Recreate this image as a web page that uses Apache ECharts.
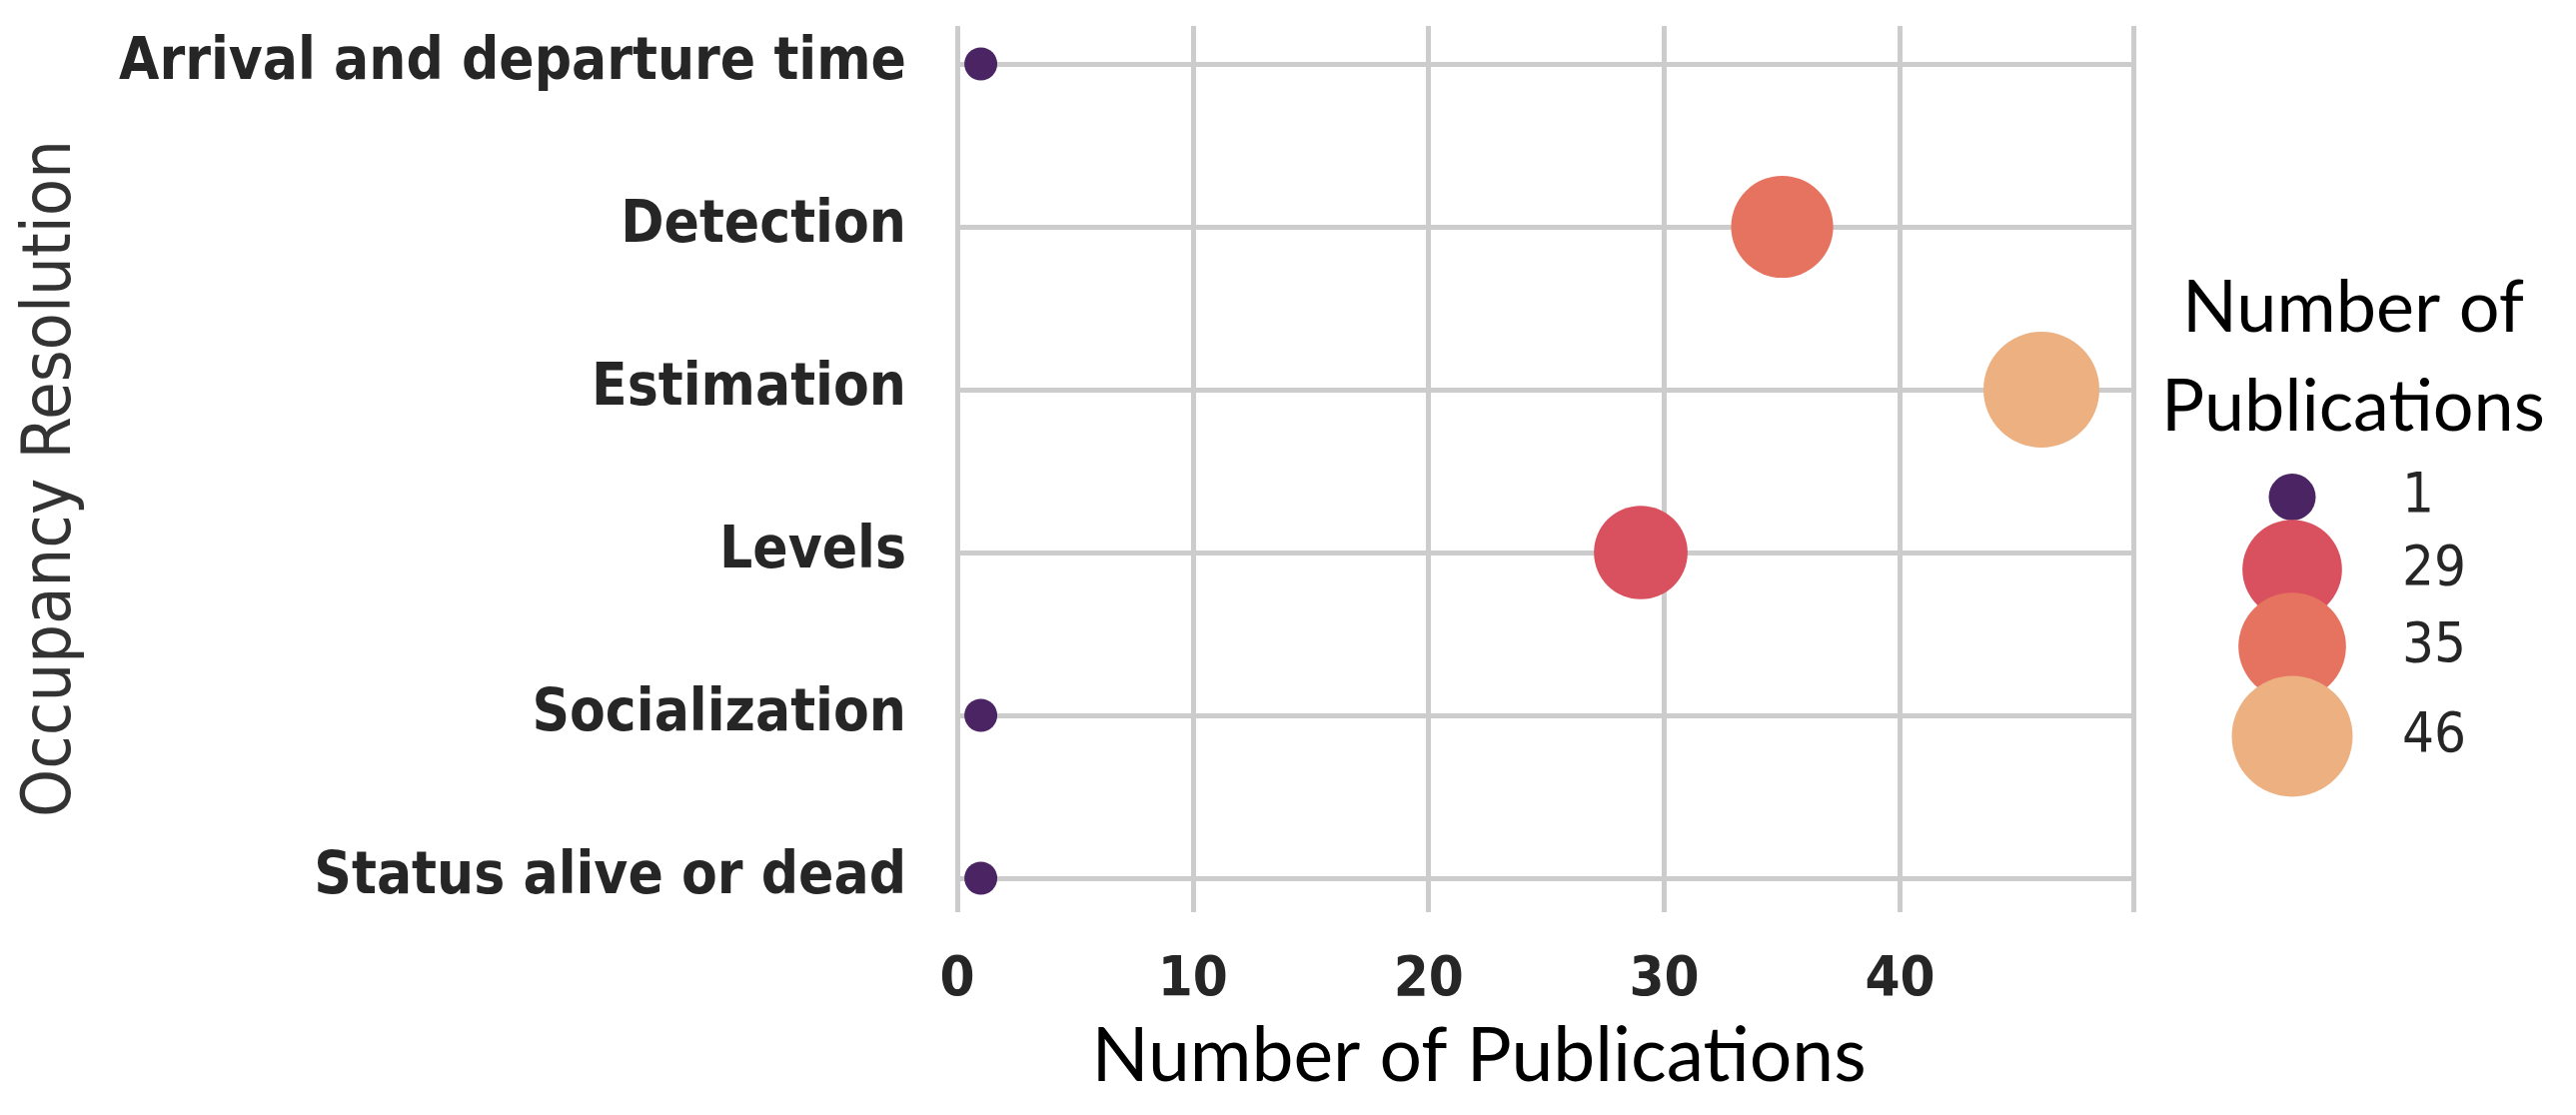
<!DOCTYPE html>
<html>
<head>
<meta charset="utf-8">
<script src="https://cdn.jsdelivr.net/npm/echarts@6/dist/echarts.min.js"></script>
<style>
  html, body { margin: 0; padding: 0; background: #fff; }
  #main { width: 2578px; height: 1116px; }
</style>
</head>
<body>
<div id="main"></div>
<script>
// values
const categories = [
  'Arrival and departure time',
  'Detection',
  'Estimation',
  'Levels',
  'Socialization',
  'Status alive or dead'
];
const publications = [1, 35, 46, 29, 1, 1];
const sizeLevels = [1, 29, 35, 46];
const levelColors = ['#4b2463', '#d9515e', '#e6735f', '#ecb081'];

const textColor = '#262626';
const gridColor = '#cccccc';
const condensed = '"DejaVu Sans Condensed", "DejaVu Sans", sans-serif';
const calibriLike = 'Lato, "Open Sans", sans-serif';

// marker area grows linearly with the count
const plotSize = v => Math.sqrt(1089 + (v - 1) * 275);
const legendSize = v => Math.sqrt(2209 + (v - 1) * 276);
const legendCenters = [493, 570, 647, 737];
const legendCenterX = 2294;
const legendTextX = 2404;

const plotLeft = 958;
const plotRight = 2578 - 2135;

const chart = echarts.init(document.getElementById('main'));

const series = sizeLevels.map((lv, i) => ({
  type: 'scatter',
  name: String(lv),
  xAxisIndex: 1,
  yAxisIndex: 1,
  data: categories
    .map((c, j) => (publications[j] === lv ? [publications[j], c] : null))
    .filter(Boolean),
  symbolSize: d => plotSize(d[0]),
  itemStyle: { color: levelColors[i], opacity: 1 },
  emphasis: { disabled: true },
  z: 3
}));

// one legend per size so every handle keeps its own diameter
const legends = sizeLevels.map((lv, i) => {
  const d = legendSize(lv);
  return {
    data: [{ name: String(lv), icon: 'circle' }],
    left: legendCenterX - d / 2,
    top: legendCenters[i] - d / 2,
    padding: 0,
    itemWidth: d,
    itemHeight: d,
    selectedMode: false,
    textStyle: {
      fontFamily: condensed,
      fontSize: 56,
      lineHeight: 40,
      color: textColor,
      padding: [0, 0, 0, legendTextX - (legendCenterX + d / 2 + 5)]
    }
  };
});

const option = {
  backgroundColor: '#fff',
  animation: false,
  grid: [
    // outer grid: vertical grid lines and x tick labels
    { left: plotLeft, right: plotRight, top: 26, bottom: 1116 - 913 },
    // inner grid: categories sit on its top and bottom edges
    { left: plotLeft, right: plotRight, top: 64, bottom: 1116 - 879 }
  ],
  xAxis: [
    {
      type: 'value',
      gridIndex: 0,
      min: 0,
      max: 49.9,
      interval: 10,
      axisLine: { show: false },
      axisTick: { show: false },
      splitLine: { show: true, lineStyle: { color: gridColor, width: 5 } },
      axisLabel: {
        showMaxLabel: false,
        margin: 40,
        fontFamily: condensed,
        fontWeight: 'bold',
        fontSize: 56,
        color: textColor
      }
    },
    {
      type: 'value',
      gridIndex: 1,
      min: 0,
      max: 49.9,
      show: false
    }
  ],
  yAxis: [
    { type: 'value', gridIndex: 0, show: false },
    {
      type: 'category',
      gridIndex: 1,
      data: categories,
      inverse: true,
      boundaryGap: false,
      axisLine: { show: false },
      axisTick: { show: false },
      splitLine: { show: true, lineStyle: { color: gridColor, width: 5 } },
      axisLabel: {
        margin: 51,
        fontFamily: condensed,
        fontWeight: 'bold',
        fontSize: 58,
        color: textColor
      }
    }
  ],
  legend: legends,
  graphic: [
    {
      type: 'text',
      x: 52,
      y: 479,
      rotation: Math.PI / 2,
      style: {
        text: 'Occupancy Resolution',
        font: '68px ' + condensed,
        fill: '#333',
        align: 'center',
        verticalAlign: 'middle'
      }
    },
    {
      type: 'text',
      x: 1480,
      y: 1058,
      style: {
        text: 'Number of Publications',
        font: '75px ' + calibriLike,
        fill: '#000',
        align: 'center',
        verticalAlign: 'middle'
      }
    },
    {
      type: 'text',
      x: 2355,
      y: 358,
      style: {
        text: 'Number of\nPublications',
        font: '72px ' + calibriLike,
        lineHeight: 99,
        fill: '#000',
        align: 'center',
        verticalAlign: 'middle'
      }
    }
  ],
  series: series
};

chart.setOption(option);
</script>
</body>
</html>
